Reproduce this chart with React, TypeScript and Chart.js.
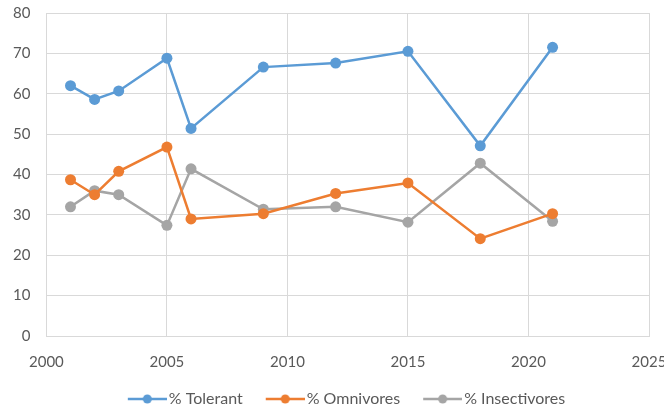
import React, { useEffect, useRef } from "react";
import { Chart, registerables } from "chart.js";

Chart.register(...registerables);

const years = [2001, 2002, 2003, 2005, 2006, 2009, 2012, 2015, 2018, 2021];
const tolerant = [62.0, 58.6, 60.7, 68.8, 51.4, 66.6, 67.6, 70.5, 47.1, 71.5];
const omnivores = [38.7, 35.0, 40.8, 46.8, 29.0, 30.3, 35.3, 37.9, 24.1, 30.3];
const insectivores = [32.0, 36.0, 35.0, 27.4, 41.4, 31.4, 32.0, 28.2, 42.8, 28.4];
const seriesNames = ["% Tolerant", "% Omnivores", "% Insectivores"];
const seriesColors = ["#5B9BD5", "#ED7D31", "#A5A5A5"];

function makeLegendMarker(color: string): HTMLCanvasElement {
  const c = document.createElement("canvas");
  c.width = 60;
  c.height = 12;
  const ctx = c.getContext("2d")!;
  ctx.strokeStyle = color;
  ctx.lineWidth = 2.5;
  ctx.beginPath();
  ctx.moveTo(21, 6);
  ctx.lineTo(60, 6);
  ctx.stroke();
  ctx.fillStyle = color;
  ctx.beginPath();
  ctx.arc(40.5, 6, 4.5, 0, Math.PI * 2);
  ctx.fill();
  return c;
}

export default function App() {
  const ref = useRef<HTMLCanvasElement | null>(null);
  useEffect(() => {
    document.body.style.margin = "0";
    const seriesValues = [tolerant, omnivores, insectivores];
    const markers = seriesColors.map(makeLegendMarker);
    const chart = new Chart(ref.current!, {
      type: "line",
      data: {
        datasets: seriesNames.map((name, i) => ({
          label: name,
          data: years.map((y, j) => ({ x: y, y: seriesValues[i][j] })),
          borderColor: seriesColors[i],
          backgroundColor: seriesColors[i],
          borderWidth: 2.5,
          pointRadius: 5.5,
          pointHoverRadius: 5.5,
          pointBorderWidth: 0,
          tension: 0,
        })),
      },
      options: {
        animation: false,
        responsive: false,
        maintainAspectRatio: false,
        layout: { padding: { left: -3, right: -17, top: 0, bottom: -5 } },
        scales: {
          x: {
            type: "linear",
            min: 2000,
            max: 2025,
            ticks: {
              stepSize: 5,
              color: "#595959",
              font: { family: "Lato", size: 15 },
              padding: 17,
              callback: (v: any) => String(v),
            },
            grid: { color: "#d9d9d9", drawTicks: false },
            border: { color: "#d9d9d9" },
            afterFit: (s: any) => {
              s.paddingRight = 15;
              s.paddingLeft = 0;
              s.height = s.height - 5;
            },
          },
          y: {
            min: 0,
            max: 80,
            ticks: {
              stepSize: 10,
              color: "#595959",
              font: { family: "Lato", size: 15 },
              padding: 16,
            },
            grid: { color: "#d9d9d9", drawTicks: false },
            border: { color: "#d9d9d9" },
            afterFit: (s: any) => {
              s.paddingTop = 13;
              s.paddingBottom = 0;
            },
          },
        },
        plugins: {
          tooltip: { enabled: false },
          legend: {
            position: "bottom",
            labels: {
              usePointStyle: true,
              pointStyleWidth: 48,
              boxHeight: 12,
              padding: 8,
              color: "#595959",
              font: { family: "Lato", size: 16 },
              generateLabels: (ch: any) =>
                Chart.defaults.plugins.legend.labels
                  .generateLabels(ch)
                  .map((l: any, i: number) => ({ ...l, pointStyle: markers[i] })),
            },
          },
        },
      },
    });
    return () => chart.destroy();
  }, []);
  return (
    <div style={{ position: "absolute", left: 0, top: 0, width: 664, height: 412 }}>
      <canvas ref={ref} width={664} height={412} style={{ width: 664, height: 412 }} />
    </div>
  );
}
